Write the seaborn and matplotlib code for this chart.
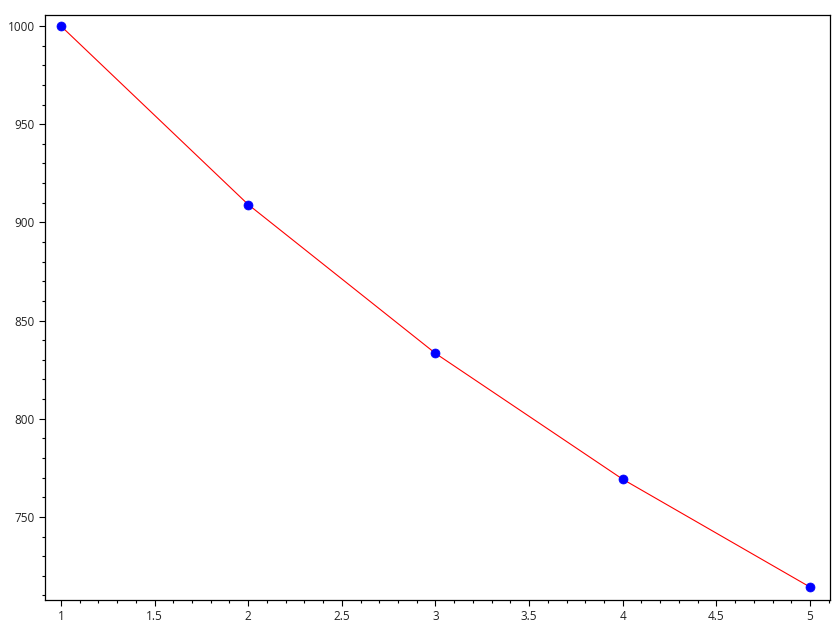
import numpy as np
import pandas as pd
import matplotlib
matplotlib.use('Agg')
import matplotlib.pyplot as plt
from matplotlib.ticker import MultipleLocator
import seaborn as sns

x_vals = [1, 2, 3, 4, 5]
y_vals = [1000, 909.1, 833.3, 769.2, 714.3]

df = pd.DataFrame({'x': x_vals, 'y': y_vals})

sns.set_style('white')
plt.rcParams['font.family'] = ['Open Sans', 'DejaVu Sans']

fig = plt.figure(figsize=(8.4, 6.3), dpi=100)
ax = fig.add_axes([45/840, 30/630, 785/840, 585/630])

sns.lineplot(data=df, x='x', y='y', color='red', linewidth=0.8, ax=ax)
sns.scatterplot(data=df, x='x', y='y', color='blue', s=42, edgecolor='blue', linewidth=0.5, zorder=3, ax=ax)

ax.set_xlabel('')
ax.set_ylabel('')

ax.xaxis.set_major_locator(MultipleLocator(0.5))
ax.xaxis.set_minor_locator(MultipleLocator(0.1))
ax.yaxis.set_major_locator(MultipleLocator(50))
ax.yaxis.set_minor_locator(MultipleLocator(10))
ax.set_xticks(np.arange(1, 5.01, 0.5), labels=[f'{t:g}' for t in np.arange(1, 5.01, 0.5)])
ax.set_xlim(0.915, 5.107)
ax.set_ylim(707.7, 1005.6)

ax.tick_params(which='both', direction='out', color='black', labelsize=8.5, labelcolor='#222222',
               bottom=True, left=True, top=False, right=False)
ax.tick_params(which='major', length=4, width=0.8)
ax.tick_params(which='minor', length=2, width=0.8)

for s in ax.spines.values():
    s.set_color('black')
    s.set_linewidth(0.9)

fig.savefig('out.png', dpi=100)
